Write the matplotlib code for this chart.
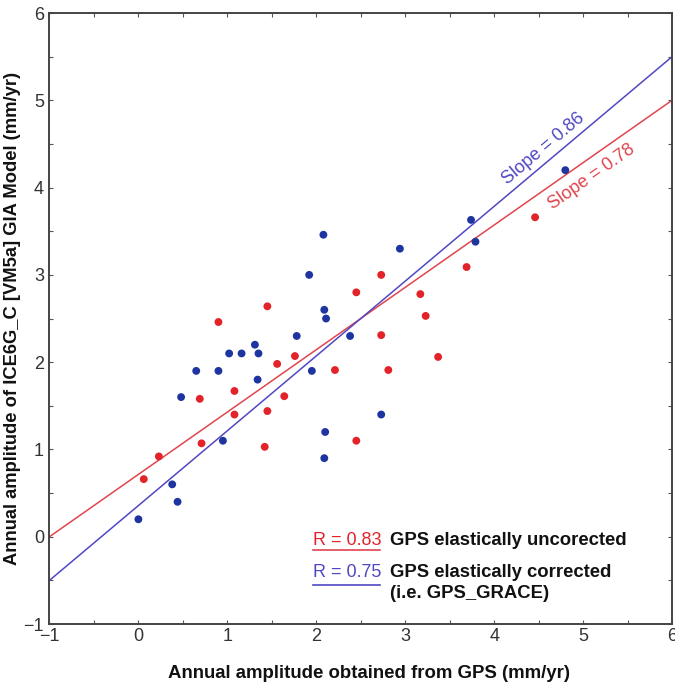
import numpy as np
import matplotlib
matplotlib.use("Agg")
import matplotlib.pyplot as plt
from matplotlib.ticker import MultipleLocator

plt.rcParams['font.family'] = ['Liberation Sans', 'DejaVu Sans']

# GPS elastically corrected (i.e. GPS_GRACE) - blue
blue_x = [0.00, 0.38, 0.44, 0.48, 0.65, 0.90, 0.95, 1.02, 1.16, 1.31, 1.35, 1.34,
          1.78, 1.92, 1.95, 2.08, 2.09, 2.11, 2.10, 2.09, 2.38, 2.73, 2.94, 3.74,
          3.79, 4.80]
blue_y = [0.20, 0.60, 0.40, 1.60, 1.90, 1.90, 1.10, 2.10, 2.10, 2.20, 2.10, 1.80,
          2.30, 3.00, 1.90, 3.46, 2.60, 2.50, 1.20, 0.90, 2.30, 1.40, 3.30, 3.63,
          3.38, 4.20]

# GPS elastically uncorrected - red
red_x = [0.06, 0.23, 0.69, 0.71, 0.90, 1.08, 1.08, 1.42, 1.45, 1.45, 1.56, 1.64,
         1.76, 2.21, 2.45, 2.45, 2.73, 2.73, 2.81, 3.17, 3.23, 3.37, 3.69, 4.46]
red_y = [0.66, 0.92, 1.58, 1.07, 2.46, 1.67, 1.40, 1.03, 1.44, 2.64, 1.98, 1.61,
         2.07, 1.91, 2.80, 1.10, 3.00, 2.31, 1.91, 2.78, 2.53, 2.06, 3.09, 3.66]

# drawn fit lines (slope, intercept)
red_fit = (0.7143, 0.7143)
blue_fit = (0.8571, 0.3571)

red_label = "Slope = 0.78"
blue_label = "Slope = 0.86"
red_r = "R = 0.83"
blue_r = "R = 0.75"

c_red_dot = "#e2232a"
c_blue_dot = "#1e34a0"
c_red_line = "#e0454e"
c_blue_line = "#5048c2"

fig = plt.figure(figsize=(6.75, 6.87), dpi=100)
ax = fig.add_axes([0.0733, 0.0917, 0.9223, 0.8893])
ax.set_xlim(-1, 6)
ax.set_ylim(-1, 6)

xx = np.linspace(-1, 6, 50)
ax.plot(xx, red_fit[0] * xx + red_fit[1], color=c_red_line, lw=1.1, zorder=2)
ax.plot(xx, blue_fit[0] * xx + blue_fit[1], color=c_blue_line, lw=1.1, zorder=2)

ax.scatter(blue_x, blue_y, s=32, color=c_blue_dot, edgecolors='none', zorder=3)
ax.scatter(red_x, red_y, s=32, color=c_red_dot, edgecolors='none', zorder=3)

# slope annotations
bx = 4.55
ax.text(bx, blue_fit[0] * bx + blue_fit[1] + 0.19, blue_label, color=c_blue_line,
        fontsize=13, ha='center', va='center',
        rotation=np.degrees(np.arctan(blue_fit[0])), rotation_mode='anchor',
        transform_rotates_text=True)
rx = 5.10
ax.text(rx, red_fit[0] * rx + red_fit[1] - 0.23, red_label, color=c_red_line,
        fontsize=13, ha='center', va='center',
        rotation=np.degrees(np.arctan(red_fit[0])), rotation_mode='anchor',
        transform_rotates_text=True)

# legend-like annotations
ax.text(1.96, -0.04, red_r, color=c_red_dot, fontsize=13, ha='left', va='center')
ax.plot([1.96, 2.72], [-0.15, -0.15], color=c_red_line, lw=1.2)
ax.text(2.83, -0.04, "GPS elastically uncorected", color='#111111', fontsize=13.3,
        fontweight='bold', ha='left', va='center')
ax.text(1.96, -0.41, blue_r, color=c_blue_line, fontsize=13, ha='left', va='center')
ax.plot([1.96, 2.72], [-0.555, -0.555], color=c_blue_line, lw=1.2)
ax.text(2.83, -0.41, "GPS elastically corrected", color='#111111', fontsize=13.3,
        fontweight='bold', ha='left', va='center')
ax.text(2.83, -0.65, "(i.e. GPS_GRACE)", color='#111111', fontsize=13.3,
        fontweight='bold', ha='left', va='center')

ax.xaxis.set_major_locator(MultipleLocator(1))
ax.yaxis.set_major_locator(MultipleLocator(1))
ax.xaxis.set_minor_locator(MultipleLocator(0.5))
ax.yaxis.set_minor_locator(MultipleLocator(0.5))
ax.tick_params(which='both', direction='in', top=True, right=True, length=3,
               width=0.8, color='#555555', labelsize=13, labelcolor='#333333')
ax.tick_params(axis='x', pad=3)
ax.tick_params(axis='y', pad=4)
for sp in ax.spines.values():
    sp.set_color('#444444')
    sp.set_linewidth(1.4)

ax.set_xlabel("Annual amplitude obtained from GPS (mm/yr)", fontsize=13.4,
              fontweight='bold', color='#111111')
ax.xaxis.set_label_coords(0.513, -0.067)
ax.set_ylabel("Annual amplitude of ICE6G_C [VM5a] GIA Model (mm/yr)", fontsize=13.2,
              fontweight='bold', color='#111111')
ax.yaxis.set_label_coords(-0.045, 0.5)

fig.savefig("out.png", dpi=100)
